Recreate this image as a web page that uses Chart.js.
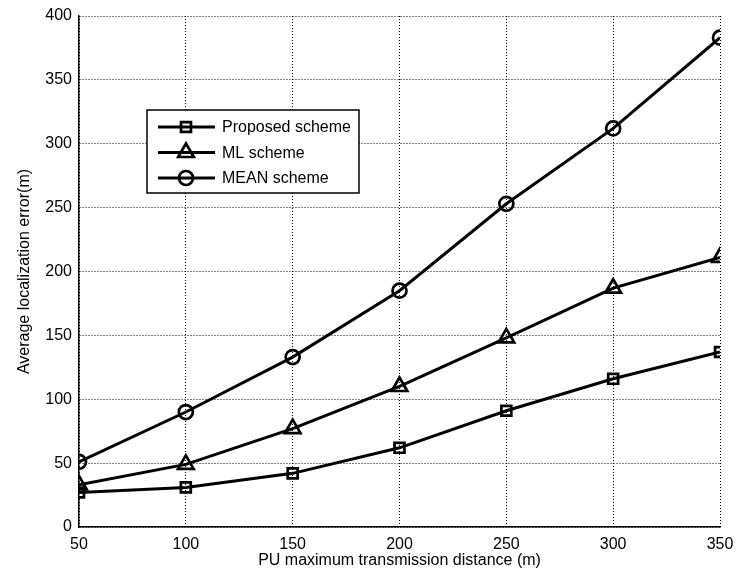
<!DOCTYPE html>
<html>
<head>
<meta charset="utf-8">
<title>Localization error</title>
<script src="https://cdn.jsdelivr.net/npm/chart.js@4/dist/chart.umd.min.js"></script>
<style>
  html, body { margin: 0; padding: 0; background: #fff; }
  canvas { display: block; }
</style>
</head>
<body>
<canvas id="myChart" width="736" height="583"></canvas>
<script>
// distances on the x axis (m)
const distances = [50, 100, 150, 200, 250, 300, 350];

// average localization error (m)
const proposed = [27, 31, 42, 62, 91, 116, 137];
const mlScheme = [33, 49, 77, 110, 148, 187, 211];
const meanScheme = [51, 90, 133, 185, 253, 312, 383];

const seriesNames = ['Proposed scheme', 'ML scheme', 'MEAN scheme'];
const markers = ['rect', 'triangle', 'circle'];
const markerSizes = [7, 9, 7];

const FONT = "'Liberation Sans', Arial, sans-serif";

function makeSet(i, values) {
  return {
    label: seriesNames[i],
    data: distances.map((d, k) => ({ x: d, y: values[k] })),
    borderColor: '#000',
    borderWidth: 3,
    backgroundColor: 'rgba(0,0,0,0)',
    pointStyle: markers[i],
    pointRadius: markerSizes[i],
    pointBorderWidth: 2.7,
    pointBorderColor: '#000',
    pointBackgroundColor: 'rgba(0,0,0,0)',
    tension: 0
  };
}

// legend box drawn inside the plot, like the matlab one
const insideLegend = {
  id: 'insideLegend',
  afterDraw(chart) {
    const ctx = chart.ctx;
    const bx = 147, by = 110, bw = 212, bh = 83;
    ctx.save();
    ctx.fillStyle = '#fff';
    ctx.fillRect(bx, by, bw, bh);
    ctx.strokeStyle = '#000';
    ctx.lineWidth = 1.5;
    ctx.strokeRect(bx, by, bw, bh);
    chart.data.datasets.forEach((ds, i) => {
      const y = by + 17 + i * 25.5;
      ctx.beginPath();
      ctx.strokeStyle = '#000';
      ctx.lineWidth = 3;
      ctx.moveTo(158, y);
      ctx.lineTo(215, y);
      ctx.stroke();
      ctx.lineWidth = 2.7;
      ctx.fillStyle = 'rgba(0,0,0,0)';
      Chart.helpers.drawPoint(ctx, { pointStyle: ds.pointStyle, radius: ds.pointRadius, rotation: 0, borderWidth: 2.7 }, 186, y);
      ctx.fillStyle = '#000';
      ctx.font = '16px ' + FONT;
      ctx.textBaseline = 'middle';
      ctx.textAlign = 'left';
      ctx.fillText(ds.label, 222, y + 1);
    });
    ctx.restore();
  }
};

const ctx = document.getElementById('myChart').getContext('2d');
const myChart = new Chart(ctx, {
  type: 'line',
  data: {
    datasets: [makeSet(0, proposed), makeSet(1, mlScheme), makeSet(2, meanScheme)]
  },
  options: {
    responsive: false,
    animation: false,
    layout: { padding: { top: 16, right: 16, left: 0, bottom: 0 } },
    plugins: {
      legend: { display: false },
      tooltip: { enabled: false }
    },
    scales: {
      x: {
        type: 'linear',
        min: 50,
        max: 350,
        afterFit(scale) {
          scale.height = 56;
          scale.paddingLeft = 0;
          scale.paddingRight = 0;
        },
        ticks: { stepSize: 50, color: '#000', padding: 8, font: { family: FONT, size: 16 }, maxRotation: 0 },
        grid: { color: '#000', lineWidth: 1, drawTicks: false },
        border: { display: true, color: '#000', width: 1.5, dash: [1, 2] },
        title: {
          display: true,
          text: 'PU maximum transmission distance (m)',
          color: '#000',
          font: { family: FONT, size: 16 },
          padding: { top: 0, bottom: 13 }
        }
      },
      y: {
        min: 0,
        max: 400,
        afterFit(scale) {
          scale.width = 79;
          scale.paddingTop = 0;
          scale.paddingBottom = 0;
        },
        ticks: { stepSize: 50, color: '#000', padding: 7, font: { family: FONT, size: 16 } },
        grid: { color: '#000', lineWidth: 1, drawTicks: false },
        border: { display: true, color: '#000', width: 1.5, dash: [1, 2] },
        title: {
          display: true,
          text: 'Average localization error(m)',
          color: '#000',
          font: { family: FONT, size: 16 },
          padding: { top: 15, bottom: 0 }
        }
      }
    }
  },
  plugins: [insideLegend]
});
</script>
</body>
</html>
